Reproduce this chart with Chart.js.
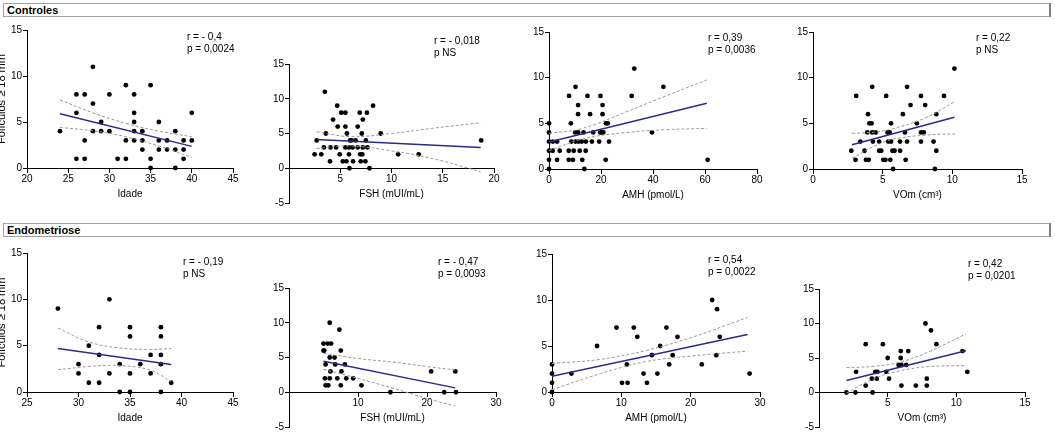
<!DOCTYPE html>
<html>
<head>
<meta charset="utf-8">
<script src="https://cdn.jsdelivr.net/npm/chart.js@4.4.1/dist/chart.umd.min.js"></script>
<style>
  body { margin: 0; background: #fff; width: 1055px; height: 438px; overflow: hidden; position: relative;
         font-family: 'Liberation Sans', Arial, sans-serif; }
  .hdr { position: absolute; left: 3px; width: 1042px; height: 12px; border: 1px solid #a0a0a0;
         border-right: 2px solid #808080; font-weight: bold; font-size: 11px; line-height: 12px; padding-left: 3px; }
  .note { position: absolute; font-size: 10px; line-height: 12px; white-space: pre; color: #000; }
  .panel { position: absolute; }
</style>
</head>
<body>
<div class="hdr" style="top:3px">Controles</div>
<div class="hdr" style="top:223px">Endometriose</div>

<script>
// ---- tick values
const yTicksPos = [0, 5, 10, 15];
const yTicksNeg = [-5, 0, 5, 10, 15];
const ticksIdadeC = [20, 25, 30, 35, 40, 45];
const ticksFshC = [0, 5, 10, 15, 20];
const ticksAmhC = [0, 20, 40, 60, 80];
const ticksVomC = [0, 5, 10, 15];
const ticksIdadeE = [25, 30, 35, 40, 45];
const ticksFshE = [0, 10, 20, 30];
const ticksAmhE = [0, 10, 20, 30];
const ticksVomE = [0, 5, 10, 15];

// ---- Controles
const idadeC_x = [24,26,26,26,27,27,27,28,28,28,29,29,30,30,31,32,32,32,33,33,33,33,33,34,34,34,35,35,35,36,36,36,37,37,38,38,38,39,39,39,40,40];
const idadeC_y = [4,8,6,1,8,3,1,11,7,4,5,4,8,4,1,9,3,1,8,6,5,4,3,4,3,2,9,1,0,5,3,2,3,2,4,2,0,3,2,1,6,3];
const idadeC_fit = [[24, 5.9], [40, 2.35]];
const idadeC_ciUp = [[24, 7.4], [28, 6.0], [32, 4.85], [36, 4.0], [40, 3.4]];
const idadeC_ciLo = [[24, 4.4], [28, 4.05], [32, 3.4], [36, 2.4], [40, 1.15]];

const fshC_x = [3.5,4.7,8.2,5.1,5.5,6.9,7.6,4.3,7.2,4.75,5.5,6.7,3.6,5.65,7.1,8.95,2.7,5.95,6.1,6.5,7.5,18.75,3.4,4.05,4.6,5.5,5.85,6.2,6.7,7.2,7.65,2.5,3.15,4.95,5.85,6.95,7.15,10.65,12.65,4.0,5.25,5.6,6.25,7.0,7.45,5.9,7.85];
const fshC_y = [11,9,9,8,8,8,8,7,7,6,6,6,5,5,5,5,4,4,4,4,4,4,3,3,3,3,3,3,3,3,3,2,2,2,2,2,2,2,2,1,1,1,1,1,1,0,0];
const fshC_fit = [[2.7, 4.15], [18.7, 3.0]];
const fshC_ciUp = [[2.7, 5.25], [6, 4.55], [10, 5.0], [14, 5.75], [18.7, 6.55]];
const fshC_ciLo = [[2.7, 2.85], [6, 3.2], [10, 2.5], [14, 1.4], [18.7, -0.5]];

const amhC_x = [32.8,10.2,44,7.7,14.8,19.8,31.8,11.2,20.6,11.2,15.8,20.6,0,8.4,21.9,22.6,0,10.1,11.2,13.3,17.0,19.7,20.3,20.9,39.6,0,1.5,3.1,8.6,10.2,11.4,12.6,14.2,16.5,19.3,23.1,0,1.4,4.1,7.6,9.5,11.8,14.1,0,3.1,7.6,9.2,12.8,21.8,61,0,13.6];
const amhC_y = [11,9,9,8,8,8,8,7,7,6,6,6,5,5,5,5,4,4,4,4,4,4,4,4,4,3,3,3,3,3,3,3,3,3,3,3,2,2,2,2,2,2,2,1,1,1,1,1,1,1,0,0];
const amhC_fit = [[0, 2.95], [60.7, 7.2]];
const amhC_ciUp = [[0, 3.9], [13, 4.45], [30, 6.3], [45, 8.0], [60.7, 9.75]];
const amhC_ciLo = [[0, 2.0], [13, 3.3], [30, 4.0], [45, 4.3], [60.7, 4.45]];

const vomC_x = [10.15,4.25,6.75,3.1,5.25,7.75,9.4,7.0,8.05,3.95,6.45,8.85,4.05,4.2,5.6,7.45,3.9,4.25,4.5,5.35,5.5,6.6,7.75,7.95,3.4,4.3,4.75,5.4,5.6,6.25,6.75,7.75,8.65,2.75,3.7,4.75,4.9,5.7,5.85,6.25,8.85,3.05,3.8,4.0,5.05,5.2,5.55,6.65,5.75,8.75];
const vomC_y = [11,9,9,8,8,8,8,7,7,6,6,6,5,5,5,5,4,4,4,4,4,4,4,4,3,3,3,3,3,3,3,3,3,2,2,2,2,2,2,2,2,1,1,1,1,1,1,1,0,0];
const vomC_fit = [[2.8, 2.65], [10.15, 5.67]];
const vomC_ciUp = [[2.8, 3.9], [4.5, 4.05], [5.7, 4.4], [8, 5.55], [10.2, 7.4]];
const vomC_ciLo = [[2.8, 1.2], [4.5, 2.55], [5.7, 3.25], [8, 3.7], [10.2, 3.85]];

// ---- Endometriose
const idadeE_x = [28,30,30,31,31,32,32,32,33,33,34,34,35,35,35,35,36,37,37,38,38,38,38,38,39];
const idadeE_y = [9,3,2,5,1,7,4,1,10,2,3,0,7,6,2,0,3,4,2,7,6,4,3,0,1];
const idadeE_fit = [[28, 4.7], [39, 2.96]];
const idadeE_ciUp = [[28, 6.9], [31, 5.4], [34, 4.75], [37, 4.6], [39, 4.7]];
const idadeE_ciLo = [[28, 2.4], [31, 2.75], [34, 2.85], [37, 2.35], [39, 1.1]];

const fshE_x = [5.0,5.0,5.1,5.2,5.3,5.3,5.6,5.7,5.9,5.9,5.9,6.0,6.1,6.6,6.7,7.0,7.3,7.5,7.5,7.6,8.1,8.3,9.3,10.5,14.7,20.6,22.5,24.1,24.2];
const fshE_y = [7,6,6,2,4,1,7,1,10,5,2,3,7,5,4,2,9,6,1,3,4,2,2,1,0,3,0,3,0];
const fshE_fit = [[5, 4.45], [24.1, 0.63]];
const fshE_ciUp = [[5, 5.6], [10, 4.85], [15, 4.35], [20, 3.7], [24.1, 3.2]];
const fshE_ciLo = [[5, 3.3], [10, 2.0], [15, 0.6], [20, -0.9], [24.1, -2.0]];

const amhE_x = [0,0,0,0,2.8,6.5,9.3,10.1,10.8,10.9,11.8,12.3,13.2,13.7,14.4,15.2,15.6,16.5,16.9,17.4,18.1,21.6,23.1,23.7,23.8,24.2,28.5];
const amhE_y = [0,1,2,3,2,5,7,1,3,1,7,6,2,1,4,2,5,7,3,4,6,3,10,4,9,6,2];
const amhE_fit = [[0, 1.7], [28.2, 6.25]];
const amhE_ciUp = [[0, 3.1], [7, 3.55], [13.5, 4.5], [20, 5.9], [28.2, 8.1]];
const amhE_ciLo = [[0, 0.25], [7, 2.0], [13.5, 3.3], [20, 3.9], [28.2, 4.45]];

const vomE_x = [2.0,2.65,2.7,3.4,3.4,3.85,3.9,4.1,4.2,4.25,4.65,4.9,5.0,5.1,5.8,5.95,5.95,6.0,6.0,6.35,6.5,7.05,7.75,7.85,7.85,8.15,8.55,10.45,10.8];
const vomE_y = [0,0,3,7,1,2,0,3,2,3,7,3,5,2,4,6,5,4,1,4,6,1,10,2,1,9,7,6,3];
const vomE_fit = [[2, 1.74], [10.7, 6.05]];
const vomE_ciUp = [[2, 3.6], [4, 3.8], [5.8, 4.35], [8, 5.9], [10.7, 8.5]];
const vomE_ciLo = [[2, -0.1], [4, 2.0], [5.8, 3.1], [8, 3.75], [10.7, 3.9]];

const yTitle = 'Folículos ≥ 18 mm';

// plot boxes (pixel positions of axis extents) and note positions
const panels = [
  { box: {L: 27,  R: 233,  T: 30,  B: 168}, xs: idadeC_x, ys: idadeC_y, fit: idadeC_fit, up: idadeC_ciUp, lo: idadeC_ciLo,
    xt: ticksIdadeC, yt: yTicksPos, xTitle: 'Idade', yTitle: true, hide0: false, note: ['r = - 0,4', 'p = 0,0024'], np: [187, 31] },
  { box: {L: 289, R: 494,  T: 64,  B: 203}, xs: fshC_x, ys: fshC_y, fit: fshC_fit, up: fshC_ciUp, lo: fshC_ciLo,
    xt: ticksFshC, yt: yTicksNeg, xTitle: 'FSH (mUI/mL)', yTitle: false, hide0: true, note: ['r = - 0,018', 'p NS'], np: [434, 35] },
  { box: {L: 549, R: 757,  T: 32,  B: 169}, xs: amhC_x, ys: amhC_y, fit: amhC_fit, up: amhC_ciUp, lo: amhC_ciLo,
    xt: ticksAmhC, yt: yTicksPos, xTitle: 'AMH (pmol/L)', yTitle: false, hide0: false, note: ['r = 0,39', 'p = 0,0036'], np: [708, 32] },
  { box: {L: 813, R: 1022, T: 32,  B: 169}, xs: vomC_x, ys: vomC_y, fit: vomC_fit, up: vomC_ciUp, lo: vomC_ciLo,
    xt: ticksVomC, yt: yTicksPos, xTitle: 'VOm (cm³)', yTitle: false, hide0: false, note: ['r = 0,22', 'p NS'], np: [976, 32] },
  { box: {L: 27,  R: 233,  T: 253, B: 392}, xs: idadeE_x, ys: idadeE_y, fit: idadeE_fit, up: idadeE_ciUp, lo: idadeE_ciLo,
    xt: ticksIdadeE, yt: yTicksPos, xTitle: 'Idade', yTitle: true, hide0: false, note: ['r = - 0,19', 'p NS'], np: [183, 256] },
  { box: {L: 289, R: 496,  T: 288, B: 427}, xs: fshE_x, ys: fshE_y, fit: fshE_fit, up: fshE_ciUp, lo: fshE_ciLo,
    xt: ticksFshE, yt: yTicksNeg, xTitle: 'FSH (mUI/mL)', yTitle: false, hide0: true, note: ['r = - 0,47', 'p = 0,0093'], np: [438, 256] },
  { box: {L: 552, R: 760,  T: 254, B: 392}, xs: amhE_x, ys: amhE_y, fit: amhE_fit, up: amhE_ciUp, lo: amhE_ciLo,
    xt: ticksAmhE, yt: yTicksPos, xTitle: 'AMH (pmol/L)', yTitle: false, hide0: false, note: ['r = 0,54', 'p = 0,0022'], np: [708, 254] },
  { box: {L: 819, R: 1025, T: 289, B: 427}, xs: vomE_x, ys: vomE_y, fit: vomE_fit, up: vomE_ciUp, lo: vomE_ciLo,
    xt: ticksVomE, yt: yTicksNeg, xTitle: 'VOm (cm³)', yTitle: false, hide0: true, note: ['r = 0,42', 'p = 0,0201'], np: [968, 258] }
];

const FONT = "'Liberation Sans', Arial, sans-serif";
const toPts = (pairs) => pairs.map(p => ({x: p[0], y: p[1]}));

panels.forEach((p) => {
  const b = p.box;
  const padTop = 10, padRight = 12, xH = 32;
  // the x axis sits at y = 0 and takes no layout room, so the bottom padding holds it
  const padBottom = xH + 2;
  const left = p.yTitle ? -5 : b.L - 30;
  const yW = b.L - left;
  const w = b.R - left + padRight;
  const h = padTop + (b.B - b.T) + padBottom;

  const wrap = document.createElement('div');
  wrap.className = 'panel';
  wrap.style.left = left + 'px';
  wrap.style.top = (b.T - padTop) + 'px';
  const cv = document.createElement('canvas');
  cv.width = w; cv.height = h;
  cv.style.width = w + 'px'; cv.style.height = h + 'px';
  wrap.appendChild(cv);
  document.body.appendChild(wrap);

  const note = document.createElement('div');
  note.className = 'note';
  note.style.left = p.np[0] + 'px';
  note.style.top = p.np[1] + 'px';
  note.textContent = p.note.join('\n');
  document.body.appendChild(note);

  const dash = { showLine: true, borderColor: '#9a9a9a', borderDash: [3, 2], borderWidth: 1,
                 pointRadius: 0, tension: 0.4, fill: false };

  new Chart(cv.getContext('2d'), {
    type: 'scatter',
    data: {
      datasets: [
        Object.assign({ data: toPts(p.up) }, dash),
        Object.assign({ data: toPts(p.lo) }, dash),
        { data: toPts(p.fit), showLine: true, borderColor: '#2a2a8c', borderWidth: 1.5, pointRadius: 0 },
        { data: p.xs.map((x, k) => ({x: x, y: p.ys[k]})), pointRadius: 2.4, pointBackgroundColor: '#000',
          pointBorderWidth: 0, clip: false }
      ]
    },
    options: {
      responsive: false,
      animation: false,
      layout: { padding: { top: padTop, right: padRight, bottom: padBottom, left: 0 } },
      plugins: { legend: { display: false }, tooltip: { enabled: false } },
      scales: {
        x: {
          type: 'linear',
          position: { y: 0 },
          min: p.xt[0], max: p.xt[p.xt.length - 1],
          afterBuildTicks: (s) => { s.ticks = p.xt.map(v => ({value: v})); },
          afterFit: (s) => { s.height = xH; },
          grid: { drawOnChartArea: false, tickLength: 4, tickColor: '#000', lineWidth: 1 },
          border: { color: '#000', width: 1 },
          ticks: { color: '#000', padding: 1, font: { family: FONT, size: 10 },
                   maxRotation: 0, autoSkip: false,
                   callback: (v) => (p.hide0 && v === 0) ? '' : String(v) },
          title: { display: true, text: p.xTitle, color: '#000', padding: 0, font: { family: FONT, size: 10 } }
        },
        y: {
          type: 'linear',
          position: 'left',
          min: p.yt[0], max: p.yt[p.yt.length - 1],
          afterBuildTicks: (s) => { s.ticks = p.yt.map(v => ({value: v})); },
          afterFit: (s) => { s.width = yW; },
          grid: { drawOnChartArea: false, tickLength: 4, tickColor: '#000', lineWidth: 1 },
          border: { color: '#000', width: 1 },
          ticks: { color: '#000', padding: 1, font: { family: FONT, size: 10 }, autoSkip: false },
          title: { display: p.yTitle, text: yTitle, color: '#000', padding: 0, font: { family: FONT, size: 11 } }
        }
      }
    }
  });
});
</script>
</body>
</html>
